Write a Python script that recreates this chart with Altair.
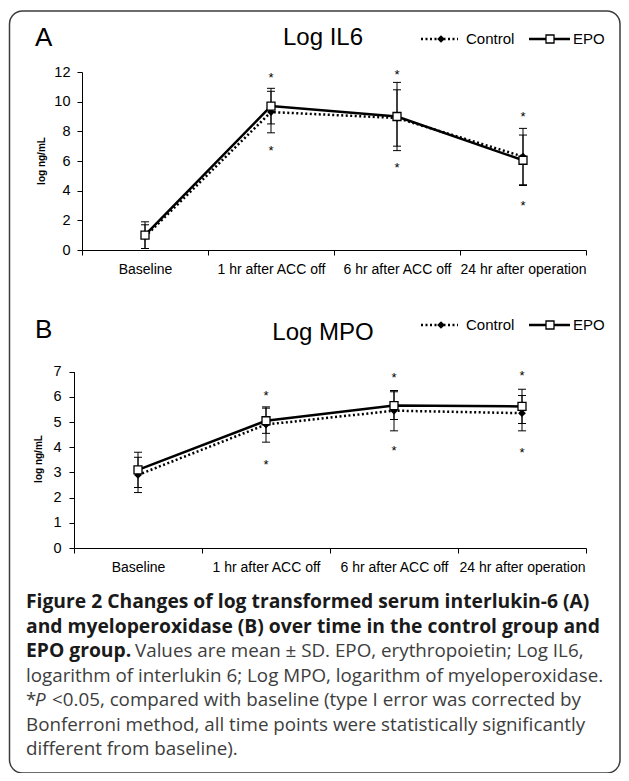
import altair as alt
import pandas as pd

categories = ["Baseline", "1 hr after ACC off", "6 hr after ACC off", "24 hr after operation"]
groups = ["Control", "EPO"]

# Panel A: Log IL6 (mean, SD)
il6_control_mean = [0.9, 9.3, 8.9, 6.3]
il6_control_sd = [0.8, 1.4, 1.9, 1.9]
il6_epo_mean = [1.0, 9.7, 9.0, 6.05]
il6_epo_sd = [0.9, 1.2, 2.3, 1.7]
il6_star_top = [None, 11.8, 12.0, 9.2]
il6_star_bottom = [None, 6.9, 5.75, 3.2]

# Panel B: Log MPO (mean, SD)
mpo_control_mean = [2.9, 4.9, 5.45, 5.35]
mpo_control_sd = [0.7, 0.7, 0.8, 0.7]
mpo_epo_mean = [3.1, 5.05, 5.65, 5.62]
mpo_epo_sd = [0.7, 0.5, 0.55, 0.68]
mpo_star_top = [None, 6.15, 6.85, 6.95]
mpo_star_bottom = [None, 3.4, 3.95, 3.9]

panel_letters = ["A", "B"]
panel_titles = ["Log IL6", "Log MPO"]
y_title = "log ng/mL"
il6_ticks = [0, 2, 4, 6, 8, 10, 12]
mpo_ticks = [0, 1, 2, 3, 4, 5, 6, 7]

caption_bold = [
    "Figure 2 Changes of log transformed serum interlukin-6 (A)",
    "and myeloperoxidase (B) over time in the control group and",
    "EPO group.",
]
caption_line3_rest = "Values are mean \u00b1 SD. EPO, erythropoietin; Log IL6,"
caption_line4 = "logarithm of interlukin 6; Log MPO, logarithm of myeloperoxidase."
caption_line5 = ["*", "P", "<0.05, compared with baseline (type I error was corrected by"]
caption_tail = [
    "Bonferroni method, all time points were statistically significantly",
    "different from baseline).",
]

W, H = 613, 765
AX_FONT = "Liberation Sans"
CAP_FONT = "Open Sans"
ONE = alt.Data(values=[{"k": 0}])


def make_df(cm, cs, em, es):
    rows = []
    for g, m, s in (("Control", cm, cs), ("EPO", em, es)):
        for i, (c, mv, sv) in enumerate(zip(categories, m, s)):
            rows.append(dict(cat=c, i=i, group=g, mean=mv, lo=mv - sv, hi=mv + sv))
    return pd.DataFrame(rows)


def make_stars(top, bot):
    rows = []
    for c, t, b in zip(categories, top, bot):
        for v in (t, b):
            if v is not None:
                rows.append(dict(cat=c, star=v))
    return pd.DataFrame(rows)


def panel(df, stars, ticks, x_range, y_range, label_pad):
    x_axis = alt.Axis(orient="bottom", offset=y_range[0] - H, tickBand="extent",
                      labelAngle=0, labelPadding=7, tickSize=5, domainColor="black",
                      tickColor="black", labelColor="black", labelFont=AX_FONT,
                      labelFontSize=14, grid=False, title=None)
    x_enc = alt.X("cat:N", sort=categories,
                  scale=alt.Scale(type="band", domain=categories, range=x_range,
                                  paddingInner=0, paddingOuter=0),
                  axis=x_axis)
    y_scale = alt.Scale(domain=[ticks[0], ticks[-1]], range=y_range, nice=False, zero=False)
    y_axis = alt.Axis(orient="left", offset=-x_range[0], values=ticks, tickSize=5,
                      labelPadding=label_pad, domainColor="black", tickColor="black",
                      labelColor="black", labelFont=AX_FONT, labelFontSize=14.5,
                      grid=False, title=None)

    def Y(f):
        return alt.Y(f, scale=y_scale, axis=y_axis)

    base = alt.Chart(df)
    ctrl = base.transform_filter("datum.group == 'Control'")
    epo = base.transform_filter("datum.group == 'EPO'")
    line_ctrl = ctrl.mark_line(color="black", strokeWidth=2.5, strokeDash=[2, 2.5]).encode(
        x=x_enc, y=Y("mean:Q"), order="i:Q")
    line_epo = epo.mark_line(color="black", strokeWidth=2.5).encode(
        x=x_enc, y=Y("mean:Q"), order="i:Q")
    err = base.mark_rule(color="black", strokeWidth=1).encode(
        x=x_enc, y=Y("lo:Q"), y2="hi:Q")
    cap_lo = base.mark_tick(orient="horizontal", size=8, thickness=1, color="black",
                            opacity=1).encode(x=x_enc, y=Y("lo:Q"))
    cap_hi = base.mark_tick(orient="horizontal", size=8, thickness=1, color="black",
                            opacity=1).encode(x=x_enc, y=Y("hi:Q"))
    pts_ctrl = ctrl.mark_point(shape="diamond", filled=True, color="black", size=60,
                               opacity=1).encode(x=x_enc, y=Y("mean:Q"))
    pts_epo = epo.mark_point(shape="square", filled=True, fill="white", stroke="black",
                             strokeWidth=1.3, size=64, opacity=1).encode(x=x_enc, y=Y("mean:Q"))
    star = alt.Chart(stars).mark_text(text="*", font=AX_FONT, fontSize=13, color="black",
                                      baseline="alphabetic", dy=7).encode(
        x=x_enc, y=Y("star:Q"))
    return alt.layer(line_ctrl, line_epo, err, cap_lo, cap_hi, pts_ctrl, pts_epo, star)


def text(t, x, y, size, weight="normal", font=AX_FONT, align="left", angle=0,
         color="black", style="normal"):
    kw = dict(text=t, font=font, fontSize=size, fontWeight=weight, align=align,
              baseline="middle", color=color, fontStyle=style)
    if angle:
        kw["angle"] = angle
    return alt.Chart(ONE).mark_text(**kw).encode(x=alt.value(x), y=alt.value(y))


def legend(y):
    items = [
        alt.Chart(ONE).mark_rule(color="black", strokeWidth=2.5, strokeDash=[2, 2.5]).encode(
            x=alt.value(413), x2=alt.value(450), y=alt.value(y)),
        alt.Chart(ONE).mark_point(shape="diamond", filled=True, color="black", size=60,
                                  opacity=1).encode(x=alt.value(433), y=alt.value(y)),
        text(groups[0], 458, y, 15),
        alt.Chart(ONE).mark_rule(color="black", strokeWidth=2.5).encode(
            x=alt.value(521), x2=alt.value(562), y=alt.value(y)),
        alt.Chart(ONE).mark_point(shape="square", filled=True, fill="white", stroke="black",
                                  strokeWidth=1.3, size=64, opacity=1).encode(
            x=alt.value(542), y=alt.value(y)),
        text(groups[1], 565, y, 15),
    ]
    return items


panel_a = panel(make_df(il6_control_mean, il6_control_sd, il6_epo_mean, il6_epo_sd),
                make_stars(il6_star_top, il6_star_bottom), il6_ticks,
                [74, 578], [242, 64], 7)
panel_b = panel(make_df(mpo_control_mean, mpo_control_sd, mpo_epo_mean, mpo_epo_sd),
                make_stars(mpo_star_top, mpo_star_bottom), mpo_ticks,
                [66, 578], [540, 363.6], 8)

border = alt.Chart(ONE).mark_rect(fill="transparent", stroke="#3c3c3c", strokeWidth=1.5,
                                  cornerRadius=13).encode(
    x=alt.value(1.5), x2=alt.value(612), y=alt.value(3), y2=alt.value(765))

decor = [
    text(panel_letters[0], 27, 30, 26),
    text(panel_titles[0], 315, 30, 24, align="center"),
    text(panel_letters[1], 27, 322, 26),
    text(panel_titles[1], 315, 325, 24, align="center"),
    text(y_title, 34, 153, 10, weight="bold", align="center", angle=270),
    text(y_title, 31, 451, 10, weight="bold", align="center", angle=270),
] + legend(31) + legend(317)

cx = 18
ly = [594, 618.5, 643, 667.5, 692, 716.5, 741]
b_size = 19.3
r_size = 18.8
bold_col = "#1a1a1a"
reg_col = "#3d3d3d"
caption = [
    text(caption_bold[0], cx, ly[0], b_size, weight="bold", font=CAP_FONT, color=bold_col),
    text(caption_bold[1], cx, ly[1], b_size, weight="bold", font=CAP_FONT, color=bold_col),
    text(caption_bold[2], cx, ly[2], b_size, weight="bold", font=CAP_FONT, color=bold_col),
    text(caption_line3_rest, cx + 109, ly[2], r_size, font=CAP_FONT, color=reg_col),
    text(caption_line4, cx, ly[3], r_size, font=CAP_FONT, color=reg_col),
    text(caption_line5[0], cx, ly[4], r_size, font=CAP_FONT, color=reg_col),
    text(caption_line5[1], cx + 9, ly[4], r_size, font=CAP_FONT, color=reg_col, style="italic"),
    text(caption_line5[2], cx + 26, ly[4], r_size, font=CAP_FONT, color=reg_col),
    text(caption_tail[0], cx, ly[5], r_size, font=CAP_FONT, color=reg_col),
    text(caption_tail[1], cx, ly[6], r_size, font=CAP_FONT, color=reg_col),
]

chart = alt.layer(border, panel_a, panel_b, *decor, *caption).resolve_scale(
    x="independent", y="independent"
).properties(
    width=W, height=H, padding=0, autosize=alt.AutoSizeParams(type="none")
).configure_view(strokeWidth=0)

chart.save("out.html", embed_options={"renderer": "svg", "actions": False})
